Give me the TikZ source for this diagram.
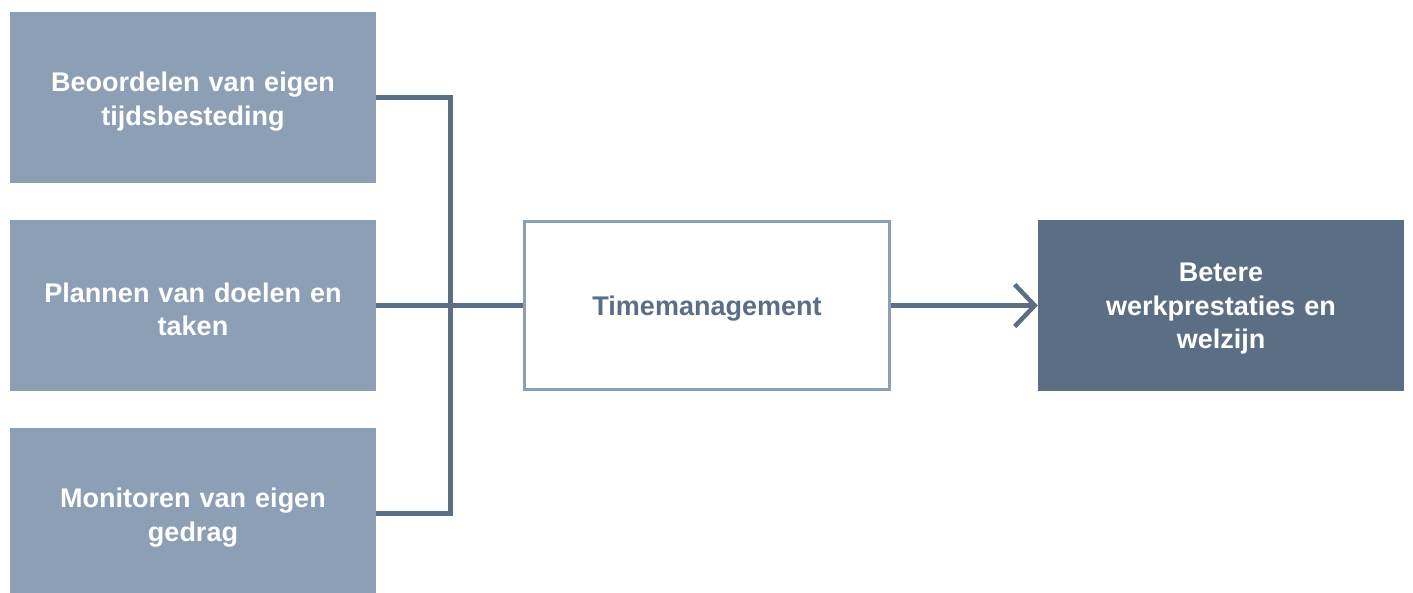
\documentclass[tikz,border=0pt]{standalone}
\usepackage{fontspec}
\setmainfont{Liberation Sans}
\usetikzlibrary{arrows.meta}
\definecolor{lightbox}{HTML}{8D9FB5}
\definecolor{darkbox}{HTML}{5C6E84}
\tikzset{
  boxfont/.style={font=\fontsize{27}{33.5}\selectfont\bfseries},
  boxtext/.style={text=white, boxfont, align=center, text width=350pt, inner sep=0pt, yshift=-4pt},
  leftbox/.style={rectangle, fill=lightbox, minimum width=366pt, minimum height=171pt, inner sep=0pt},
  midbox/.style={rectangle, draw=lightbox, line width=3pt, fill=white, minimum width=365pt, minimum height=168pt, inner sep=0pt, text=darkbox, boxfont, text height=22pt, text depth=3pt},
  rightbox/.style={rectangle, fill=darkbox, minimum width=366pt, minimum height=171pt, inner sep=0pt},
  conn/.style={draw=darkbox, line width=5pt},
}
\begin{document}
\begin{tikzpicture}[x=1pt,y=-1pt]
\clip (0,0) rectangle (1413,592);
\node[leftbox, label={[boxtext]center:Beoordelen van eigen\\tijdsbesteding}] (b1) at (193,97.5) {};
\node[leftbox, label={[boxtext]center:Plannen van doelen en\\taken}] (b2) at (193,305.5) {};
\node[leftbox, label={[boxtext]center:Monitoren van eigen\\gedrag}] (b3) at (193,513.5) {};
\node[midbox] (tm) at (707,305.5) {Timemanagement};
\node[rightbox, label={[boxtext, yshift=0.5pt]center:Betere\\werkprestaties en\\welzijn}] (res) at (1221,305.5) {};
\coordinate (j) at (450.5,305.5);
\draw[conn] (b1.east) -| (j);
\draw[conn] (b3.east) -| (j);
\draw[conn] (b2.east) -- (tm.west);
\draw[draw=darkbox, line width=4.5pt, -{Straight Barb[length=20pt,width=42pt,line width=4.5pt]}] (tm.east) -- (res.west);
\end{tikzpicture}
\end{document}
